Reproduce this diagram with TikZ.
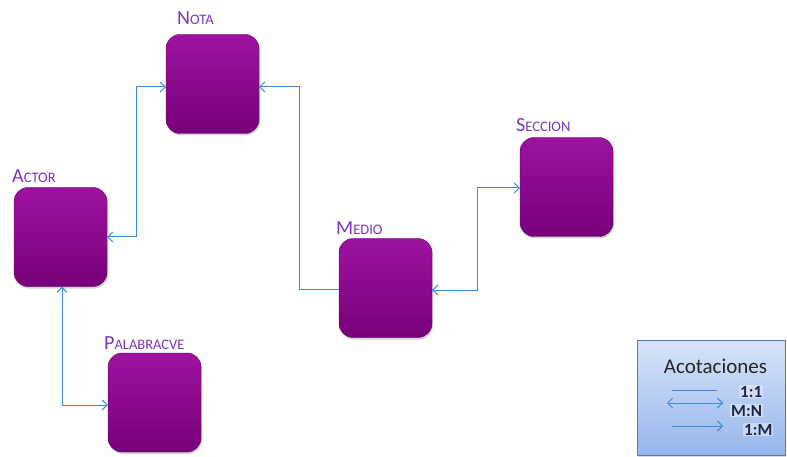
\documentclass[tikz,border=0pt]{standalone}
\usepackage{fontspec}
\setmainfont{Carlito}
\usetikzlibrary{arrows.meta,shadows,calc}
\definecolor{lblpurple}{RGB}{122,52,190}
\definecolor{conblue}{RGB}{62,140,215}
\definecolor{boxtop}{RGB}{158,18,160}
\definecolor{boxbot}{RGB}{120,0,122}
\definecolor{legtop}{RGB}{215,228,250}
\definecolor{legbot}{RGB}{150,182,235}
\definecolor{legborder}{RGB}{90,120,170}
\definecolor{legtext}{RGB}{30,40,70}
\tikzset{
  entity/.style={rounded corners=14pt, minimum width=93pt, minimum height=99pt,
    top color=boxtop, bottom color=boxbot, draw=boxbot!80!black, line width=0.4pt,
    drop shadow={shadow xshift=1pt, shadow yshift=-2pt, opacity=0.35}},
  elabel/.style={anchor=base west, text=lblpurple, inner sep=0pt},
  conn/.style={draw=conblue, line width=1pt, >={Straight Barb[length=5pt,width=10pt]}},
  legtxt/.style={anchor=base west, text=legtext, inner sep=1pt, fill=legtop!50!white, fill opacity=0.5, text opacity=1,
    font=\fontsize{17}{18}\selectfont\bfseries},
}
\newcommand{\bigc}[1]{{\fontsize{20}{20}\selectfont #1}}
\newcommand{\smc}[1]{{\fontsize{14.5}{15}\selectfont #1}}
\begin{document}
\begin{tikzpicture}[x=1pt,y=-1pt]
\useasboundingbox (0,0) rectangle (787,457);
% boxes
\node[entity] (nota) at (212.5,84) {};
\node[entity] (actor) at (60.5,237) {};
\node[entity] (medio) at (385.5,288) {};
\node[entity] (seccion) at (566.5,187) {};
\node[entity] (palabra) at (154.5,402.5) {};
% labels
\node[elabel] (lnota) at (177,25) {\bigc{N}\smc{OTA}};
\node[elabel] (lactor) at (12,183) {\bigc{A}\smc{CTOR}};
\node[elabel] (lmedio) at (336,235) {\bigc{M}\smc{EDIO}};
\node[elabel] (lseccion) at (516,132) {\bigc{S}\smc{ECCION}};
\node[elabel] (lpalabra) at (104,349) {\bigc{P}\smc{ALABRACVE}};
% connectors
\draw[conn,<->] ([yshift=-3pt]nota.west) -- ++(-29,0) |- (actor.east);
\draw[conn,->] ([yshift=-1pt]medio.west) -- ++(-39,0) |- ([yshift=-3pt]nota.east);
\draw[conn,<->] ([yshift=-2pt]medio.east) -- ++(45,0) |- ([yshift=-1pt]seccion.west);
\draw[conn,<->] ([xshift=1.5pt]actor.south) |- ([yshift=-2.5pt]palabra.west);
% legend
\node[draw=legborder, line width=0.8pt, top color=legtop, bottom color=legbot,
  minimum width=148pt, minimum height=115pt, inner sep=0pt,
  drop shadow={shadow xshift=1pt, shadow yshift=-1.5pt, opacity=0.3}] (legend) at (711,397.5) {};
\node[anchor=base, text=black!85, inner sep=0pt, font=\fontsize{21}{22}\selectfont] (ltitle) at (715.5,373) {Acotaciones};
\coordinate (a1) at (672,390);
\coordinate (b1) at (717,390);
\coordinate (a2) at (667,403);
\coordinate (b2) at (723,403);
\coordinate (a3) at (672,426);
\coordinate (b3) at (723,426);
\draw[conn] (a1) -- (b1);
\draw[conn,<->] (a2) -- (b2);
\draw[conn,->] (a3) -- (b3);
\node[legtxt] (t1) at (739,397) {1:1};
\node[legtxt] (t2) at (730,416) {M:N};
\node[legtxt] (t3) at (743,435) {1:M};
\end{tikzpicture}
\end{document}
